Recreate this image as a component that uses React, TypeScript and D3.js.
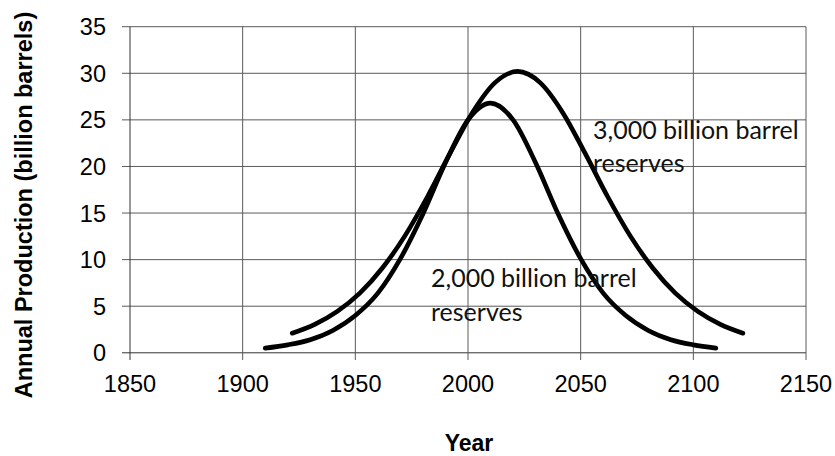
import React from "react"
import * as d3 from "d3"

// year ticks and production ticks
const yearTicks = [1850, 1900, 1950, 2000, 2050, 2100, 2150]
const prodTicks = [0, 5, 10, 15, 20, 25, 30, 35]

// 2,000 billion barrel reserves curve
const years2000 = [1910, 1920, 1930, 1940, 1950, 1960, 1970, 1980, 1990, 2000, 2010, 2020, 2030, 2040, 2050, 2060, 2070, 2080, 2090, 2100, 2110]
const prod2000 = [0.5, 0.85, 1.4, 2.4, 4.0, 6.4, 10.1, 14.9, 20.4, 25.0, 26.8, 25.0, 20.4, 14.9, 10.1, 6.4, 4.0, 2.4, 1.4, 0.85, 0.5]

// 3,000 billion barrel reserves curve
const years3000 = [1922, 1932, 1942, 1952, 1962, 1972, 1982, 1992, 2002, 2012, 2022, 2032, 2042, 2052, 2062, 2072, 2082, 2092, 2102, 2112, 2122]
const prod3000 = [2.1, 3.05, 4.45, 6.4, 9.1, 12.55, 16.75, 21.4, 25.8, 29.0, 30.2, 29.0, 25.8, 21.4, 16.75, 12.55, 9.1, 6.4, 4.45, 3.05, 2.1]

const W = 835
const H = 456

export default function App() {
  const x = d3.scaleLinear().domain([1850, 2150]).range([130, 806])
  const y = d3.scaleLinear().domain([0, 35]).range([352.8, 26.7])

  const line = d3.line<[number, number]>()
    .x(d => x(d[0]))
    .y(d => y(d[1]))
    .curve(d3.curveMonotoneX)

  const s2000 = years2000.map((yr, i) => [yr, prod2000[i]] as [number, number])
  const s3000 = years3000.map((yr, i) => [yr, prod3000[i]] as [number, number])

  const grid = "#5a5a5a"
  const sans = "Liberation Sans, Arial, sans-serif"
  const label = "Lato, Carlito, Calibri, sans-serif"

  return (
    <svg width={W} height={H} style={{ position: "absolute", left: 0, top: 0, background: "#fff" }}>
      {/* horizontal grid + y ticks */}
      {prodTicks.map(t => (
        <g key={"h" + t}>
          <line x1={122} x2={x(2150)} y1={y(t)} y2={y(t)} stroke={t === 0 ? "#333" : grid} strokeWidth={1} />
          <text x={106} y={y(t)} dy="0.36em" textAnchor="end" fontFamily={sans} fontSize={23.5} fill="#000">{t}</text>
        </g>
      ))}
      {/* vertical grid + x ticks */}
      {yearTicks.map(t => (
        <g key={"v" + t}>
          <line x1={x(t)} x2={x(t)} y1={y(35)} y2={360} stroke={t === 1850 ? "#333" : grid} strokeWidth={1} />
          <text x={x(t)} y={391.5} textAnchor="middle" fontFamily={sans} fontSize={23.5} fill="#000">{t}</text>
        </g>
      ))}

      <path d={line(s2000) || ""} fill="none" stroke="#000" strokeWidth={4.6} strokeLinecap="round" />
      <path d={line(s3000) || ""} fill="none" stroke="#000" strokeWidth={4.6} strokeLinecap="round" />

      <text fontFamily={label} fontSize={25} fill="#111">
        <tspan x={593} y={138.5}>3,000 billion barrel</tspan>
        <tspan x={593} y={172}>reserves</tspan>
      </text>
      <text fontFamily={label} fontSize={25} fill="#111">
        <tspan x={431} y={287}>2,000 billion barrel</tspan>
        <tspan x={431} y={321}>reserves</tspan>
      </text>

      <text x={469} y={451} textAnchor="middle" fontFamily={sans} fontWeight="bold" fontSize={23}>Year</text>
      <text transform={`translate(32,205) rotate(-90)`} textAnchor="middle" fontFamily={sans} fontWeight="bold" fontSize={23.5}>
        Annual Production (billion barrels)
      </text>
    </svg>
  )
}
